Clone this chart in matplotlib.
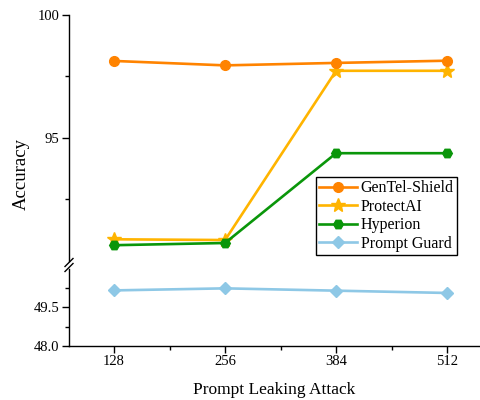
import matplotlib
matplotlib.use("Agg")
import matplotlib.pyplot as plt
from matplotlib.ticker import FixedLocator

plt.rcParams['font.family'] = ['Liberation Serif', 'DejaVu Serif']
plt.rcParams['mathtext.fontset'] = 'stix'

# data
lengths = [128, 256, 384, 512]
gentel = [98.12, 97.94, 98.04, 98.13]
protectai = [90.87, 90.84, 97.72, 97.72]
hyperion = [90.63, 90.72, 94.37, 94.37]
prompt_guard = [50.16, 50.24, 50.15, 50.06]

c_gentel = '#FF8300'
c_protect = '#FFB400'
c_hyper = '#0A960A'
c_guard = '#8EC8E6'

fig = plt.figure(figsize=(4.81, 4.0), dpi=100)
W, H = 481.0, 400.0
left, right = 69 / W, 480 / W
top_ax = fig.add_axes([left, 1 - 260.7 / H, right - left, (260.7 - 14.7) / H])
bot_ax = fig.add_axes([left, 1 - 345.7 / H, right - left, (345.7 - 268.9) / H], sharex=top_ax)

lw = 1.9
top_ax.plot(lengths, gentel, color=c_gentel, lw=lw, marker='o', ms=7, label='GenTel-Shield', zorder=4)
top_ax.plot(lengths, protectai, color=c_protect, lw=lw, marker='*', ms=10, label='ProtectAI', zorder=3)
top_ax.plot(lengths, hyperion, color=c_hyper, lw=lw, marker='H', ms=7, label='Hyperion', zorder=3)
top_ax.plot([], [], color=c_guard, lw=lw, marker='D', ms=6, label='Prompt Guard')
bot_ax.plot(lengths, prompt_guard, color=c_guard, lw=lw, marker='D', ms=6, clip_on=False)

top_ax.set_ylim(90, 100)
bot_ax.set_ylim(48, 51)
top_ax.set_xlim(76, 550)

top_ax.yaxis.set_major_locator(FixedLocator([95, 100]))
top_ax.yaxis.set_minor_locator(FixedLocator([92.5, 97.5]))
bot_ax.yaxis.set_major_locator(FixedLocator([48.0, 49.5]))
bot_ax.yaxis.set_minor_locator(FixedLocator([48.75, 50.25]))
bot_ax.set_yticklabels(['48.0', '49.5'])
bot_ax.xaxis.set_major_locator(FixedLocator(lengths))
bot_ax.xaxis.set_minor_locator(FixedLocator([192, 320, 448]))

for ax in (top_ax, bot_ax):
    ax.spines['top'].set_visible(False)
    ax.spines['right'].set_visible(False)
    ax.spines['left'].set_linewidth(1.0)
    ax.spines['bottom'].set_linewidth(1.0)
    ax.tick_params(which='major', direction='out', length=5, width=1.0, labelsize=10.5, pad=2)
    ax.tick_params(which='minor', direction='out', length=3, width=1.0)
top_ax.spines['bottom'].set_visible(False)
top_ax.tick_params(axis='x', which='both', bottom=False, labelbottom=False)

bot_ax.set_xlabel('Prompt Leaking Attack', fontsize=12.5, labelpad=10)
fig.text(21 / W, 1 - 174 / H, 'Accuracy', rotation=90, ha='center', va='center', fontsize=13.5)

# break marks on the y axis
for dy in (-2.5, 2.5):
    y0 = 265 + dy
    fig.add_artist(plt.Line2D([(69 - 4) / W, (69 + 4) / W],
                              [1 - (y0 + 4) / H, 1 - (y0 - 4) / H],
                              color='black', lw=1.0))

leg = top_ax.legend(loc='upper right', bbox_to_anchor=(456.7 / W, 1 - 177.3 / H),
                    bbox_transform=fig.transFigure, borderaxespad=0, fontsize=11.5,
                    frameon=True, fancybox=False, edgecolor='black', framealpha=1,
                    handlelength=2.4, handletextpad=0.2, labelspacing=0.15,
                    borderpad=0.2, markerscale=1.0)
leg.get_frame().set_linewidth(1.0)

fig.savefig('out.png', dpi=100)
